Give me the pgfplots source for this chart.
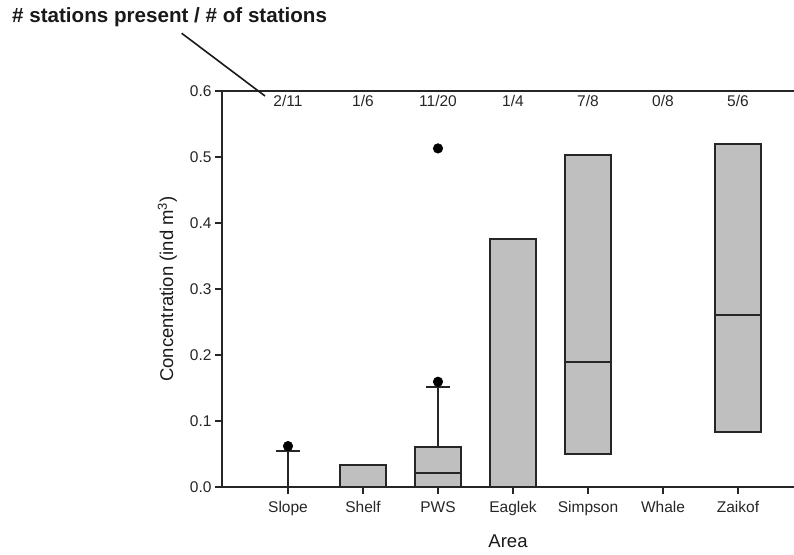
\documentclass[border=0pt]{standalone}
\usepackage{pgfplots}
\pgfplotsset{compat=1.18}
\usepgfplotslibrary{statistics}
\usepackage{fontspec}
\setmainfont{Liberation Sans}
\pgfplotsset{
  bx/.style={black!85, line width=2pt, mark=*, mark size=4.8pt,
    mark options={fill=black, draw=black, solid, line width=0.5pt},
    boxplot/every box/.style={draw=black!85, fill=gray!50, line width=2pt},
    boxplot/every whisker/.style={black!85, line width=2pt},
    boxplot/every median/.style={black!85, line width=2pt}},
}
\begin{document}
\begin{tikzpicture}[x=1pt,y=1pt]
\useasboundingbox (0,0) rectangle (794,554);
\begin{axis}[
  at={(222pt,67pt)}, anchor=south west,
  scale only axis, width=572pt, height=396pt,
  xmin=-0.88, xmax=6.747, ymin=0, ymax=0.6,
  axis x line*=bottom, axis y line*=left,
  axis line style={line width=1.5pt, black!85},
  xtick={0,1,2,3,4,5,6},
  xticklabels={Slope,Shelf,PWS,Eaglek,Simpson,Whale,Zaikof},
  ytick={0,0.1,0.2,0.3,0.4,0.5,0.6},
  yticklabels={0.0,0.1,0.2,0.3,0.4,0.5,0.6},
  tick align=outside, major tick length=7pt,
  tick style={black!85, line width=1.5pt},
  ticklabel style={font=\fontsize{15.5}{18}\selectfont, text=black!85},
  xticklabel style={yshift=-4pt},
  label style={font=\fontsize{18.5}{21}\selectfont, text=black!90},
  xlabel style={yshift=-12pt},
  ylabel style={yshift=6pt},
  xlabel={Area}, ylabel={Concentration (ind m\textsuperscript{3})},
  clip=false,
  boxplot/draw direction=y,
  boxplot/box extend=0.6133,
  boxplot/whisker extend=0.32,
]
\draw[line width=1.5pt, black!85] (rel axis cs:0,1) -- (rel axis cs:1,1);
% Slope
\addplot[bx,
  boxplot prepared={draw position=0, lower whisker=0, lower quartile=0,
  median=0, upper quartile=0, upper whisker=0.055}]
  table[row sep=\\, y index=0] {y\\ 0.062\\};
% Shelf
\addplot[bx,
  boxplot prepared={draw position=1, lower whisker=0, lower quartile=0,
  median=0, upper quartile=0.034, upper whisker=0.034}]
  coordinates {};
% PWS
\addplot[bx,
  boxplot prepared={draw position=2, lower whisker=0, lower quartile=0,
  median=0.021, upper quartile=0.060, upper whisker=0.152}]
  table[row sep=\\, y index=0] {y\\ 0.1595\\ 0.513\\};
% Eaglek
\addplot[bx,
  boxplot prepared={draw position=3, lower whisker=0, lower quartile=0,
  median=0, upper quartile=0.376, upper whisker=0.376}]
  coordinates {};
% Simpson
\addplot[bx,
  boxplot prepared={draw position=4, lower whisker=0.050, lower quartile=0.050,
  median=0.189, upper quartile=0.503, upper whisker=0.503}]
  coordinates {};
% Zaikof
\addplot[bx,
  boxplot prepared={draw position=6, lower whisker=0.083, lower quartile=0.083,
  median=0.2606, upper quartile=0.520, upper whisker=0.520}]
  coordinates {};
% counts
\foreach \i/\t in {0/2\slash 11,1/1\slash 6,2/11\slash 20,3/1\slash 4,4/7\slash 8,5/0\slash 8,6/5\slash 6}{
  \edef\tmp{\noexpand\node[font=\noexpand\fontsize{15.5}{18}\noexpand\selectfont, text=black!85] at (axis cs:\i,0.585) {\t};}
  \tmp
}
\end{axis}
\node[anchor=west, font=\bfseries\fontsize{20.6}{24}\selectfont, inner sep=0pt, text=black!90] at (12,537) {\# stations present / \# of stations};
\draw[line width=1.6pt, black!90] (181.7,520.7) -- (265,458);
\end{tikzpicture}
\end{document}
